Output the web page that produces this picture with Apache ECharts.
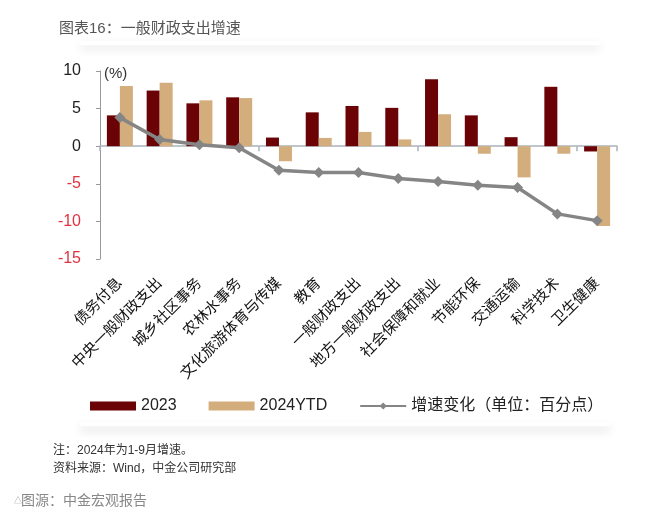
<!DOCTYPE html>
<html>
<head>
<meta charset="utf-8">
<script src="https://cdn.jsdelivr.net/npm/echarts@6/dist/echarts.min.js"></script>
<style>html,body{margin:0;padding:0;background:#fff;}#c{width:660px;height:519px;}</style>
</head>
<body>
<div id="c"></div>
<script>
var categories = ['债务付息','中央一般财政支出','城乡社区事务','农林水事务','文化旅游体育与传媒','教育','一般财政支出','地方一般财政支出','社会保障和就业','节能环保','交通运输','科学技术','卫生健康'];
var values2023 = [4.1, 7.4, 5.7, 6.5, 1.15, 4.5, 5.35, 5.1, 8.9, 4.1, 1.2, 7.9, -0.7];
var values2024 = [8.0, 8.45, 6.1, 6.4, -2.0, 1.1, 1.9, 0.9, 4.25, -1.0, -4.15, -1.0, -10.6];
var changeValues = [3.8, 0.9, 0.2, -0.2, -3.2, -3.5, -3.5, -4.3, -4.7, -5.2, -5.5, -9.0, -9.9];
var yTicks = {min: -15, max: 10, interval: 5};

var FONT = "'Liberation Sans', 'Noto Sans CJK SC', sans-serif";
var chart = echarts.init(document.getElementById('c'), null, {renderer: 'canvas'});
var axisColor = '#a9b2bd';

chart.setOption({
  backgroundColor: '#fff',
  animation: false,
  textStyle: {fontFamily: FONT},
  title: {
    text: '图表16：一般财政支出增速',
    left: 54, top: 16,
    textStyle: {fontSize: 15, fontWeight: 'normal', color: '#555', fontFamily: FONT}
  },
  grid: {left: 100, right: 43, top: 71, bottom: 260, containLabel: false},
  legend: {
    left: 85, top: 393,
    itemWidth: 46, itemHeight: 9, itemGap: 32,
    textStyle: {fontSize: 16, color: '#222', fontFamily: FONT},
    data: [
      {name: '2023', icon: 'rect'},
      {name: '2024YTD', icon: 'rect'},
      {name: '增速变化（单位：百分点）'}
    ]
  },
  xAxis: [
    {
      type: 'category', data: categories, position: 'bottom',
      axisLine: {onZero: true, lineStyle: {color: axisColor, width: 1.5}},
      axisTick: {show: true, length: 5, lineStyle: {color: axisColor, width: 1.5}},
      axisLabel: {show: false}
    },
    {
      type: 'category', data: categories, position: 'bottom',
      axisLine: {show: false, onZero: false},
      axisTick: {show: false},
      axisLabel: {show: true, rotate: 45, margin: 22, fontSize: 15, color: '#111', interval: 0, fontFamily: FONT}
    }
  ],
  yAxis: {
    type: 'value', min: yTicks.min, max: yTicks.max, interval: yTicks.interval,
    axisLine: {show: true, lineStyle: {color: '#999', width: 1}},
    axisTick: {show: true, length: 4, lineStyle: {color: '#999'}},
    splitLine: {show: false},
    axisLabel: {
      margin: 19, fontSize: 16, fontFamily: FONT,
      color: function (v) { return Number(v) < 0 ? '#e0333f' : '#222'; }
    }
  },
  series: [
    {
      name: '2023', type: 'bar', data: values2023, xAxisIndex: 0,
      barWidth: 13, barGap: '0%',
      itemStyle: {color: '#6b0306'}
    },
    {
      name: '2024YTD', type: 'bar', data: values2024, xAxisIndex: 0,
      barWidth: 13, barGap: '0%',
      itemStyle: {color: '#d3ad7c'}
    },
    {
      name: '增速变化（单位：百分点）', type: 'line', data: changeValues, xAxisIndex: 0,
      symbol: 'diamond', symbolSize: 11, z: 5,
      lineStyle: {color: '#858585', width: 3.5},
      itemStyle: {color: '#858585'}
    }
  ],
  graphic: [
    {type: 'text', left: 104, top: 66, style: {text: '(%)', fontSize: 15, fill: '#333', fontFamily: FONT}},
    {type: 'rect', shape: {x: 80, y: 41, width: 520, height: 4}, style: {fill: '#fff', shadowBlur: 10, shadowColor: 'rgba(0,0,0,0.12)', shadowOffsetY: 4}, z: -1},
    {type: 'rect', shape: {x: 80, y: 422, width: 530, height: 4}, style: {fill: '#fff', shadowBlur: 10, shadowColor: 'rgba(0,0,0,0.14)', shadowOffsetY: 5}, z: -1},
    {type: 'text', left: 53, top: 445, style: {text: '注：2024年为1-9月增速。', fontSize: 12, fill: '#333', fontFamily: FONT}},
    {type: 'text', left: 53, top: 463, style: {text: '资料来源：Wind，中金公司研究部', fontSize: 12, fill: '#333', fontFamily: FONT}},
    {type: 'text', left: 14, top: 497, style: {text: '△', fontSize: 8, fill: '#999', fontFamily: FONT}},
    {type: 'text', left: 21, top: 494, style: {text: '图源：中金宏观报告', fontSize: 14, fill: '#888', fontFamily: FONT}}
  ]
});
</script>
</body>
</html>
